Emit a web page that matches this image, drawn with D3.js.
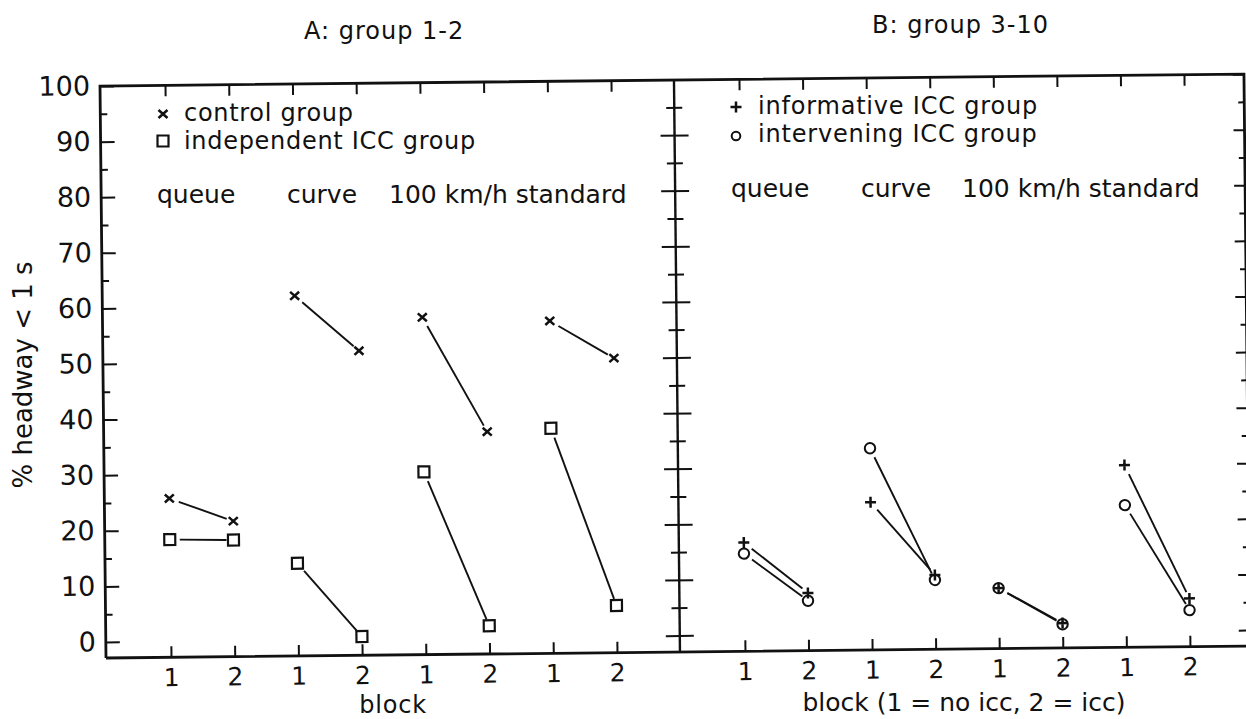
<!DOCTYPE html>
<html>
<head>
<meta charset="utf-8">
<script src="https://cdn.jsdelivr.net/npm/d3@7/dist/d3.min.js"></script>
<style>
  body { margin: 0; background: #fff; }
  text { font-family: "DejaVu Sans", sans-serif; fill: #111; }
</style>
</head>
<body>
<div id="chart"></div>
<script>
// x positions: 4 conditions x 2 blocks per panel
var conditions = ['queue', 'curve', '100 km/h', 'standard'];
var blockLabels = ['1', '2', '1', '2', '1', '2', '1', '2'];
var yTicks = [0, 10, 20, 30, 40, 50, 60, 70, 80, 90, 100];
var yMinorTicks = [5, 15, 25, 35, 45, 55, 65, 75, 85, 95];

// A: group 1-2  (% headway < 1 s, block 1 / block 2 per condition)
var control     = [25.7, 21.5, 61.9, 51.9, 57.8, 37.1, 56.9, 50.1];
var independent = [18.3, 18.1, 13.8, 0.5, 30.0, 2.2, 37.6, 5.6];
// B: group 3-10
var informative = [16.7, 7.5, 23.7, 10.5, 8.0, 1.6, 29.9, 5.8];
var intervening = [14.7, 6.1, 33.4, 9.6, 8.0, 1.4, 22.7, 3.7];

var W = 1246, H = 719;
var ink = '#111';

var svg = d3.select('#chart').append('svg')
  .attr('width', W)
  .attr('height', H);

// the scanned figure sits slightly tilted
var plot = svg.append('g').attr('transform', 'rotate(-0.6,106,658)');

var y = d3.scaleLinear().domain([0, 100]).range([642, 86]);
var xA = d3.scalePoint().domain(d3.range(8)).range([171, 617]);
var xB = d3.scalePoint().domain(d3.range(8)).range([745, 1190]);

var leftX = 106, midX = 680, rightX = 1250;
var topY = y(100), botY = 658;

// frame
plot.append('path')
  .attr('d', 'M' + leftX + ',' + botY + 'V' + topY + 'H' + rightX + 'V' + botY + 'H' + leftX)
  .attr('fill', 'none').attr('stroke', ink).attr('stroke-width', 2.8);
plot.append('line')
  .attr('x1', midX).attr('x2', midX).attr('y1', topY).attr('y2', botY)
  .attr('stroke', ink).attr('stroke-width', 2.4);

var styleAxis = function (g, size) {
  g.select('.domain').remove();
  g.attr('font-family', null).attr('font-size', null);
  g.selectAll('line').attr('stroke', ink).attr('stroke-width', 2);
  g.selectAll('text').attr('font-size', size).style('fill', ink);
};

// left y axis
plot.append('g').attr('transform', 'translate(' + leftX + ',0)')
  .call(d3.axisLeft(y).tickValues(yTicks).tickSize(-14).tickPadding(10).tickFormat(d3.format('d')))
  .call(styleAxis, 27);
plot.append('g').attr('transform', 'translate(' + leftX + ',0)')
  .call(d3.axisLeft(y).tickValues(yMinorTicks).tickSize(-7).tickFormat(''))
  .call(styleAxis, 0);

// middle axis: ticks crossing both sides
plot.selectAll('.midMajor').data(yTicks.slice(0, 10)).enter().append('line')
  .attr('x1', midX - 14).attr('x2', midX + 14)
  .attr('y1', function (d) { return y(d); }).attr('y2', function (d) { return y(d); })
  .attr('stroke', ink).attr('stroke-width', 2);
plot.selectAll('.midMinor').data(yMinorTicks).enter().append('line')
  .attr('x1', midX - 8).attr('x2', midX + 8)
  .attr('y1', function (d) { return y(d); }).attr('y2', function (d) { return y(d); })
  .attr('stroke', ink).attr('stroke-width', 2);

// right axis, ticks inward
plot.append('g').attr('transform', 'translate(' + rightX + ',0)')
  .call(d3.axisRight(y).tickValues(yTicks).tickSize(-11).tickFormat(''))
  .call(styleAxis, 0);
plot.append('g').attr('transform', 'translate(' + rightX + ',0)')
  .call(d3.axisRight(y).tickValues(yMinorTicks).tickSize(-6).tickFormat(''))
  .call(styleAxis, 0);

// top and bottom ticks, block labels
[xA, xB].forEach(function (x) {
  plot.append('g').attr('transform', 'translate(0,' + topY + ')')
    .call(d3.axisTop(x).tickSize(-11).tickFormat(''))
    .call(styleAxis, 0);
  plot.append('g').attr('transform', 'translate(0,' + botY + ')')
    .call(d3.axisBottom(x).tickSize(-11).tickPadding(11).tickFormat(function (d) { return blockLabels[d]; }))
    .call(styleAxis, 25);
});

// markers
var markerPath = {
  cross: 'M-4.5,-4L4.5,4M-4.5,4L4.5,-4',
  square: 'M-5.5,-5.5H5.5V5.5H-5.5Z',
  plus: 'M-5.5,0H5.5M0,-5.5V5.5'
};
var drawMarker = function (g, kind, cx, cy, r) {
  if (kind === 'circle') {
    g.append('circle').attr('cx', cx).attr('cy', cy).attr('r', r || 5.2)
      .attr('fill', 'none').attr('stroke', ink).attr('stroke-width', 2);
  } else {
    g.append('path').attr('d', markerPath[kind])
      .attr('transform', 'translate(' + cx + ',' + cy + ')')
      .attr('fill', 'none').attr('stroke', ink)
      .attr('stroke-width', kind === 'square' ? 2.2 : 2.5);
  }
};

var drawSeries = function (values, x, kind) {
  var g = plot.append('g');
  // block 1 -> block 2 segments, with a gap at each marker
  conditions.forEach(function (c, k) {
    var i = k * 2;
    var x1 = x(i), y1 = y(values[i]), x2 = x(i + 1), y2 = y(values[i + 1]);
    var len = Math.hypot(x2 - x1, y2 - y1);
    var ux = (x2 - x1) / len, uy = (y2 - y1) / len;
    g.append('line')
      .attr('x1', x1 + ux * 10).attr('y1', y1 + uy * 10)
      .attr('x2', x2 - ux * 7).attr('y2', y2 - uy * 7)
      .attr('stroke', ink).attr('stroke-width', 1.9);
  });
  values.forEach(function (v, i) {
    drawMarker(g, kind, x(i), y(v));
  });
};

drawSeries(control, xA, 'cross');
drawSeries(independent, xA, 'square');
drawSeries(informative, xB, 'plus');
drawSeries(intervening, xB, 'circle');

// texts (page coordinates)
svg.append('text').attr('x', 304).attr('y', 39).attr('font-size', 24)
  .attr('letter-spacing', 1).text('A: group 1-2');
svg.append('text').attr('x', 872).attr('y', 33).attr('font-size', 24)
  .attr('letter-spacing', 1).text('B: group 3-10');

svg.append('text').attr('transform', 'translate(32,375) rotate(-90)')
  .attr('text-anchor', 'middle').attr('font-size', 26).text('% headway < 1 s');

// legends
var legend = svg.append('g');
drawMarker(legend, 'cross', 163, 114);
legend.append('text').attr('x', 184).attr('y', 121).attr('font-size', 24)
  .attr('letter-spacing', 0.7).text('control group');
drawMarker(legend, 'square', 163, 141);
legend.append('text').attr('x', 184).attr('y', 149).attr('font-size', 24)
  .attr('letter-spacing', 0.7).text('independent ICC group');
drawMarker(legend, 'plus', 736, 107);
legend.append('text').attr('x', 758).attr('y', 114).attr('font-size', 24)
  .attr('letter-spacing', 0.8).text('informative ICC group');
drawMarker(legend, 'circle', 736, 136, 4.3);
legend.append('text').attr('x', 758).attr('y', 142).attr('font-size', 24)
  .attr('letter-spacing', 0.8).text('intervening ICC group');

// condition labels
var condLabels = ['queue', 'curve', '100 km/h standard'];
var condXA = [157, 287, 389], condXB = [731, 861, 962];
condLabels.forEach(function (t, i) {
  svg.append('text').attr('x', condXA[i]).attr('y', 203).attr('font-size', 25).text(t);
  svg.append('text').attr('x', condXB[i]).attr('y', 197).attr('font-size', 25).text(t);
});

svg.append('text').attr('x', 393).attr('y', 713).attr('text-anchor', 'middle')
  .attr('font-size', 24).attr('letter-spacing', 0.8).text('block');
svg.append('text').attr('x', 964).attr('y', 711).attr('text-anchor', 'middle')
  .attr('font-size', 25).text('block (1 = no icc, 2 = icc)');
</script>
</body>
</html>
